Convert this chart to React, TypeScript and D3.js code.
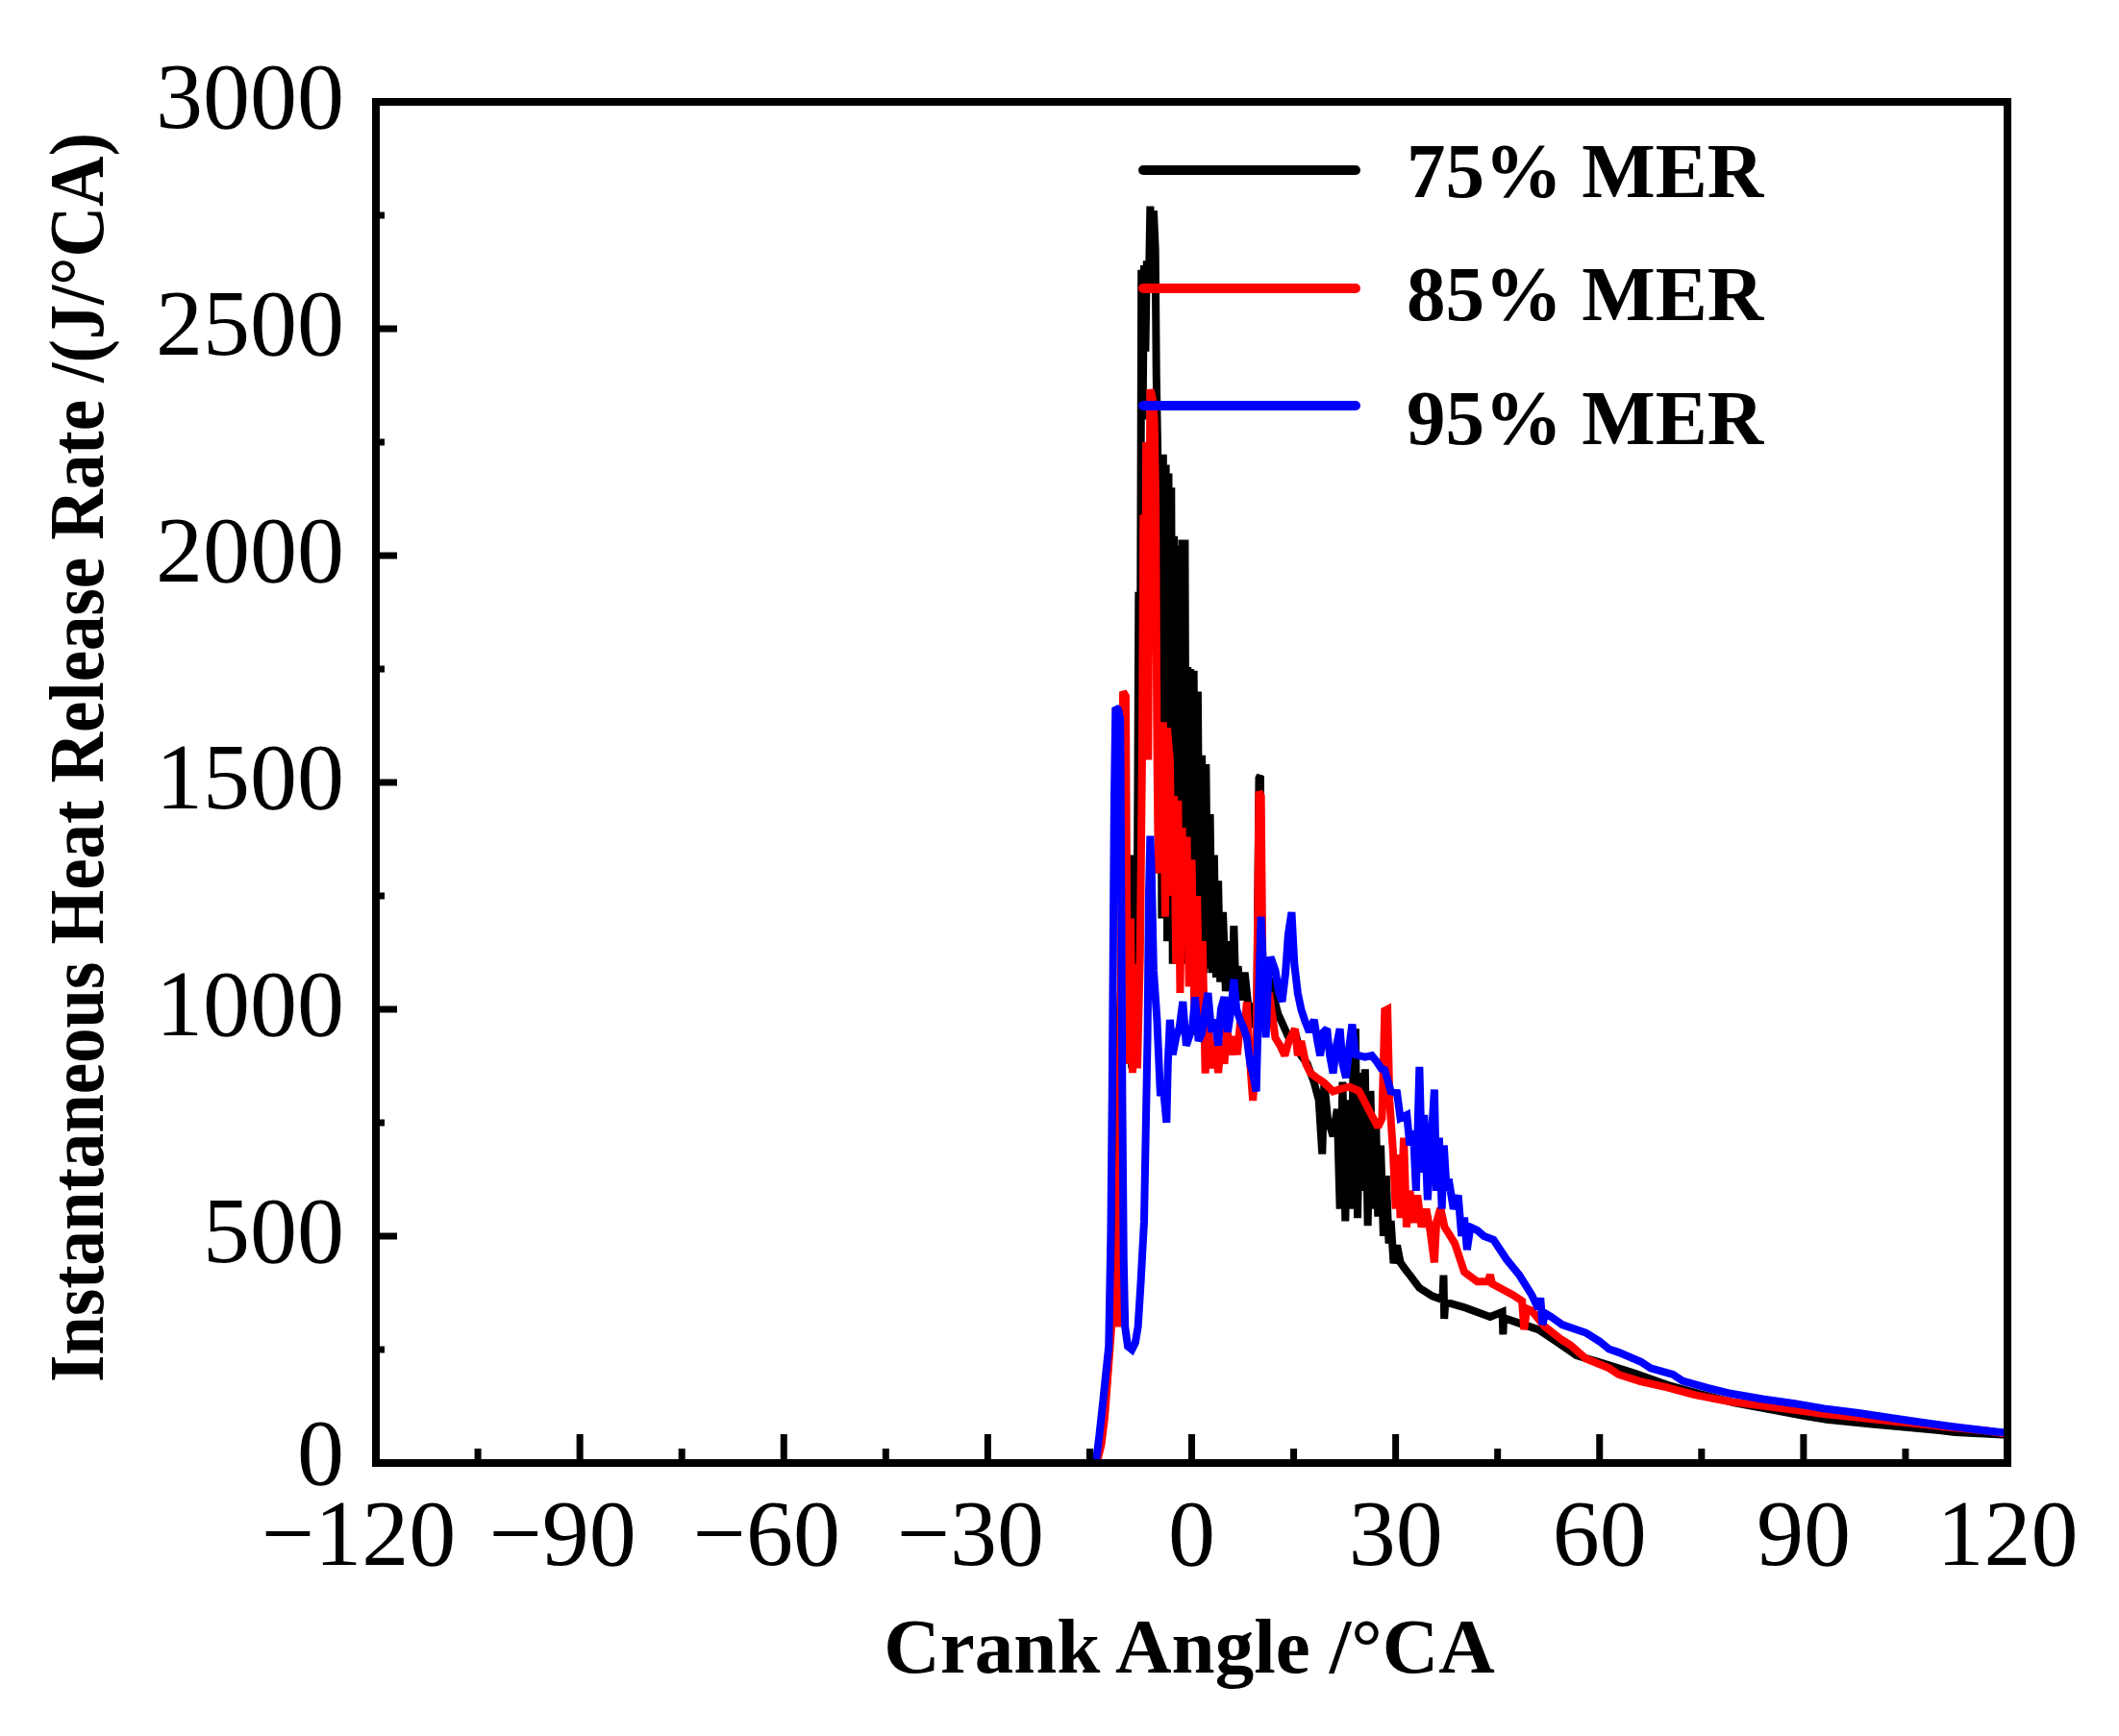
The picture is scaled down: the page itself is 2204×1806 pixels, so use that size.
import * as d3 from 'd3';

// crank angle (°CA) vs instantaneous heat release rate (J/°CA)
const mer75: [number, number][] = [
  [-120, 0], [-14.5, 0], [-14, 8], [-13.5, 40], [-13, 90], [-12.5, 170], [-12, 280], [-11.5, 450],
  [-11, 700], [-10.6, 980], [-10.3, 1080], [-10, 950], [-9.7, 1060], [-9.4, 880], [-9.1, 1020],
  [-8.8, 870], [-8.6, 1340], [-8.4, 1120], [-8.2, 1000], [-8.0, 1250], [-7.8, 1920], [-7.6, 1500],
  [-7.4, 2630], [-7.2, 2300], [-7.0, 2640], [-6.8, 2450], [-6.6, 2650], [-6.3, 2600], [-6.1, 2770],
  [-5.9, 2690], [-5.6, 2760], [-5.35, 2676], [-5.2, 2400], [-5.0, 2228], [-4.8, 1300], [-4.6, 2220],
  [-4.4, 1200], [-4.2, 2223], [-4.0, 1250], [-3.8, 2200], [-3.6, 1150], [-3.4, 2181], [-3.2, 1200],
  [-3.0, 2150], [-2.8, 1100], [-2.6, 2043], [-2.4, 1150], [-2.2, 2022], [-2.0, 1100], [-1.8, 2020],
  [-1.6, 1150], [-1.4, 2035], [-1.2, 1100], [-1.0, 2035], [-0.8, 1150], [-0.6, 1754], [-0.4, 1100],
  [-0.2, 1750], [0, 1100], [0.3, 1746], [0.6, 1100], [0.9, 1700], [1.2, 1100], [1.5, 1560],
  [1.8, 1080], [2.1, 1540], [2.4, 1090], [2.7, 1430], [3.0, 1080], [3.3, 1340], [3.6, 1070],
  [3.9, 1283], [4.2, 1060], [4.6, 1214], [5.0, 1040], [5.5, 1150], [6.0, 1040], [6.2, 1184],
  [6.5, 1030], [6.8, 1095], [7.3, 1020], [7.8, 1081], [8.3, 1010], [8.8, 1007], [9.2, 960],
  [9.6, 1000], [9.9, 1510], [10.1, 1515], [10.3, 1050], [10.8, 1080], [11.4, 1066], [12, 1030],
  [12.7, 990], [13.7, 957], [14.5, 930], [15.2, 950], [16.1, 898], [17, 880], [18, 839], [18.7, 800],
  [19.2, 681], [19.5, 840], [20, 760], [20.8, 720], [21.4, 780], [21.8, 560], [22.2, 840],
  [22.6, 533], [23, 800], [23.4, 560], [23.8, 900], [24.1, 957], [24.4, 540], [24.8, 860],
  [25.2, 600], [25.5, 868], [25.9, 523], [26.3, 820], [26.7, 560], [27.1, 760], [27.4, 543],
  [27.8, 700], [28.2, 500], [28.6, 633], [29, 484], [29.3, 534], [29.7, 440], [30.2, 480],
  [30.7, 442], [31.5, 425], [32.1, 414], [33.5, 386], [35.4, 368], [36.9, 360], [37.05, 414],
  [37.15, 318], [37.3, 355], [40.1, 343], [43.9, 322], [45.7, 333], [45.8, 283], [45.9, 320],
  [48.2, 308], [51, 294], [53.8, 266], [56.6, 237], [60.4, 220], [65.1, 198], [70, 172],
  [74.6, 153], [80, 132], [84, 121], [90, 104], [93.4, 96], [100, 86], [102.8, 82], [110, 72],
  [112.3, 68], [120, 62],
];

const mer85: [number, number][] = [
  [-120, 0], [-14.2, 0], [-13.8, 10], [-13.3, 40], [-12.8, 100], [-12.3, 200], [-11.8, 300],
  [-11.3, 420], [-10.9, 300], [-10.5, 900], [-10.1, 1700], [-9.7, 1690], [-9.4, 880], [-9.0, 1200],
  [-8.7, 860], [-8.3, 1100], [-8.0, 870], [-7.6, 1115], [-7.3, 1540], [-7.1, 2090], [-6.9, 1600],
  [-6.7, 2250], [-6.4, 1550], [-6.1, 2366], [-5.8, 2350], [-5.5, 2300], [-5.3, 2127], [-5.1, 1590],
  [-4.9, 1300], [-4.6, 1450], [-4.2, 1633], [-3.9, 1204], [-3.6, 1620], [-3.2, 1550], [-2.9, 1250],
  [-2.6, 1470], [-2.3, 1100], [-2.0, 1460], [-1.7, 1036], [-1.4, 1400], [-1.0, 1150], [-0.7, 1380],
  [-0.4, 1050], [0, 1330], [0.4, 1000], [0.8, 1250], [1.2, 950], [1.6, 1150], [2.0, 859],
  [2.4, 980], [2.9, 870], [3.4, 930], [3.9, 860], [4.3, 920], [4.8, 880], [5.2, 960], [5.7, 900],
  [6.2, 940], [6.7, 900], [7.2, 980], [7.7, 940], [8.1, 1016], [8.5, 900], [9.0, 799], [9.5, 900],
  [9.9, 1480], [10.2, 1470], [10.5, 1000], [11.4, 1036], [12.3, 937], [13.0, 920], [13.7, 898],
  [14.3, 930], [15.2, 957], [15.6, 898], [16.1, 930], [16.8, 880], [17.5, 859], [18.3, 850],
  [19.4, 839], [20.8, 819], [22, 825], [23.2, 829], [24.6, 820], [26, 780], [27.4, 740], [28.0, 760],
  [28.4, 997], [28.8, 1000], [29.1, 800], [29.6, 691], [30, 560], [30.3, 680], [30.7, 540],
  [31.2, 717], [31.6, 520], [32.1, 600], [32.6, 530], [33.2, 590], [33.8, 520], [34.5, 560],
  [35.1, 510], [35.7, 442], [36.0, 530], [36.6, 562], [37.2, 520], [37.8, 506], [38.7, 484],
  [40.1, 421], [42, 400], [43.6, 400], [43.9, 415], [44.2, 395], [45.3, 386], [47.2, 371],
  [48.6, 357], [48.9, 294], [49.3, 340], [50, 336], [51.9, 301], [54.3, 273], [55.7, 260],
  [58, 230], [61.4, 209], [62.8, 195], [66, 180], [69.8, 167], [74, 150], [79.3, 135], [84, 126],
  [88.7, 117], [93, 108], [98.1, 100], [103, 92], [107.6, 85], [112, 78], [117, 71], [120, 64],
];

const mer95: [number, number][] = [
  [-120, 0], [-14.1, 0], [-13.6, 60], [-13.1, 128], [-12.6, 200], [-12.2, 257], [-11.9, 500],
  [-11.7, 809], [-11.4, 1450], [-11.2, 1665], [-10.8, 1660], [-10.5, 1640], [-10.2, 800],
  [-10.0, 444], [-9.8, 300], [-9.4, 257], [-8.8, 250], [-8.3, 265], [-7.9, 300], [-7.5, 395],
  [-7.0, 533], [-6.5, 938], [-6.3, 1250], [-6.1, 1382], [-5.9, 1300], [-5.6, 1086], [-5.1, 977],
  [-4.6, 809], [-4.2, 830], [-3.7, 750], [-3.5, 880], [-3.2, 977], [-2.8, 900], [-2.3, 938],
  [-1.8, 960], [-1.3, 1017], [-0.8, 920], [-0.4, 938], [0.1, 960], [0.5, 1027], [1.0, 930],
  [1.5, 948], [2.0, 1000], [2.4, 1036], [2.9, 950], [3.4, 977], [3.9, 920], [4.3, 1000],
  [4.8, 1027], [5.3, 950], [5.8, 1000], [6.2, 1066], [6.6, 1000], [7.1, 977], [7.6, 960],
  [8.1, 938], [8.6, 880], [9.0, 859], [9.5, 819], [9.8, 1000], [10.2, 1204], [10.5, 1100],
  [10.9, 938], [11.3, 1080], [11.6, 1115], [12.3, 1086], [12.8, 1040], [13.3, 1017], [13.8, 1080],
  [14.2, 1165], [14.7, 1214], [15.1, 1100], [15.6, 1036], [16.1, 1000], [16.6, 977], [17.3, 950],
  [18, 977], [18.5, 930], [18.9, 898], [19.4, 950], [19.9, 957], [20.3, 900], [20.8, 859],
  [21.3, 920], [21.8, 957], [22.2, 880], [22.7, 849], [23.2, 920], [23.6, 967], [24.1, 900],
  [24.6, 898], [25.5, 895], [26.5, 898], [27.2, 885], [27.9, 869], [28.4, 866], [29.3, 819],
  [30.2, 816], [30.7, 760], [31.65, 767], [32.1, 700], [32.6, 732], [33.0, 600], [33.5, 873],
  [33.9, 640], [34.2, 767], [34.7, 580], [35.2, 700], [35.7, 823], [36.0, 600], [36.4, 717],
  [36.8, 560], [37.1, 700], [37.5, 600], [37.8, 626], [38.5, 560], [39.2, 590], [39.7, 500],
  [40.1, 541], [40.5, 470], [41, 520], [42, 513], [43, 500], [44.4, 492], [46.3, 449], [48.2, 414],
  [50, 371], [51, 340], [51.3, 364], [51.6, 305], [52, 330], [52.9, 322], [54.5, 305], [56.6, 294],
  [58, 287], [60, 268], [61.4, 251], [62.8, 244], [66.1, 223], [67.5, 209], [70.8, 195],
  [72.2, 181], [76, 165], [79.3, 153], [84, 141], [88.7, 131], [93, 120], [98.1, 110], [103, 99],
  [107.6, 89], [112, 80], [117, 71], [120, 66],
];

const seriesNames = ['75% MER', '85% MER', '95% MER'];
const seriesColors = ['#000000', '#ff0000', '#0000ff'];

const xTicks = [-120, -90, -60, -30, 0, 30, 60, 90, 120];
const xMinor = [-105, -75, -45, -15, 15, 45, 75, 105];
const yTicks = [0, 500, 1000, 1500, 2000, 2500, 3000];
const yMinor = [250, 750, 1250, 1750, 2250, 2750];

const W = 2204;
const H = 1806;
const plot = { left: 391, right: 2088, top: 106, bottom: 1522 };
const font = '"Liberation Serif", "Times New Roman", serif';

export default function App() {
  const x = d3.scaleLinear().domain([-120, 120]).range([plot.left, plot.right]);
  const y = d3.scaleLinear().domain([0, 3000]).range([plot.bottom, plot.top]);
  const line = d3
    .line<[number, number]>()
    .x((d) => x(d[0]))
    .y((d) => y(d[1]));

  const allSeries = [mer75, mer85, mer95];
  const legendY = [177, 300, 422];
  const legendTextY = [205, 333, 462];

  return (
    <svg
      width={W}
      height={H}
      style={{ position: 'absolute', left: 0, top: 0, background: '#fff' }}
    >
      <defs>
        <clipPath id="plotClip">
          <rect
            x={plot.left}
            y={plot.top}
            width={plot.right - plot.left}
            height={plot.bottom - plot.top}
          />
        </clipPath>
      </defs>

      <g clipPath="url(#plotClip)">
        {allSeries.map((s, i) => (
          <path
            key={i}
            d={line(s) ?? ''}
            fill="none"
            stroke={seriesColors[i]}
            strokeWidth={8}
            strokeLinejoin="miter"
            strokeMiterlimit={2}
          />
        ))}
      </g>

      {/* ticks, inward */}
      {xTicks.map((t) => (
        <line key={'xt' + t} x1={x(t)} x2={x(t)} y1={plot.bottom} y2={plot.bottom - 30} stroke="#000" strokeWidth={7} />
      ))}
      {xMinor.map((t) => (
        <line key={'xm' + t} x1={x(t)} x2={x(t)} y1={plot.bottom} y2={plot.bottom - 15} stroke="#000" strokeWidth={7} />
      ))}
      {yTicks.map((t) => (
        <line key={'yt' + t} x1={plot.left} x2={plot.left + 22} y1={y(t)} y2={y(t)} stroke="#000" strokeWidth={7} />
      ))}
      {yMinor.map((t) => (
        <line key={'ym' + t} x1={plot.left} x2={plot.left + 9} y1={y(t)} y2={y(t)} stroke="#000" strokeWidth={7} />
      ))}

      <rect
        x={plot.left}
        y={plot.top}
        width={plot.right - plot.left}
        height={plot.bottom - plot.top}
        fill="none"
        stroke="#000"
        strokeWidth={8}
      />

      {/* tick labels */}
      <g fontFamily={font} fontSize={98} fill="#000">
        {xTicks.map((t) => (
          <text key={'xl' + t} x={x(t) + (t < 0 ? -18 : 0)} y={1628} textAnchor="middle">
            {t < 0 ? '\u2212' + Math.abs(t) : String(t)}
          </text>
        ))}
        {yTicks.map((t) => (
          <text key={'yl' + t} x={358} y={y(t) + (t === 0 ? 22 : 27)} textAnchor="end">
            {t}
          </text>
        ))}
      </g>

      {/* axis titles */}
      <text
        x={1237}
        y={1740}
        textAnchor="middle"
        fontFamily={font}
        fontWeight="bold"
        fontSize={81}
      >
        Crank Angle /°CA
      </text>
      <text
        transform="translate(107,788) rotate(-90)"
        textAnchor="middle"
        fontFamily={font}
        fontWeight="bold"
        fontSize={80}
        textLength={1300}
        lengthAdjust="spacingAndGlyphs"
      >
        Instantaneous Heat Release Rate /(J/°CA)
      </text>

      {/* legend */}
      {seriesNames.map((name, i) => (
        <g key={name}>
          <line
            x1={1189}
            x2={1410}
            y1={legendY[i]}
            y2={legendY[i]}
            stroke={seriesColors[i]}
            strokeWidth={10}
            strokeLinecap="round"
          />
          <text
            x={1463}
            y={legendTextY[i]}
            fontFamily={font}
            fontWeight="bold"
            fontSize={81}
          >
            {name}
          </text>
        </g>
      ))}
    </svg>
  );
}
